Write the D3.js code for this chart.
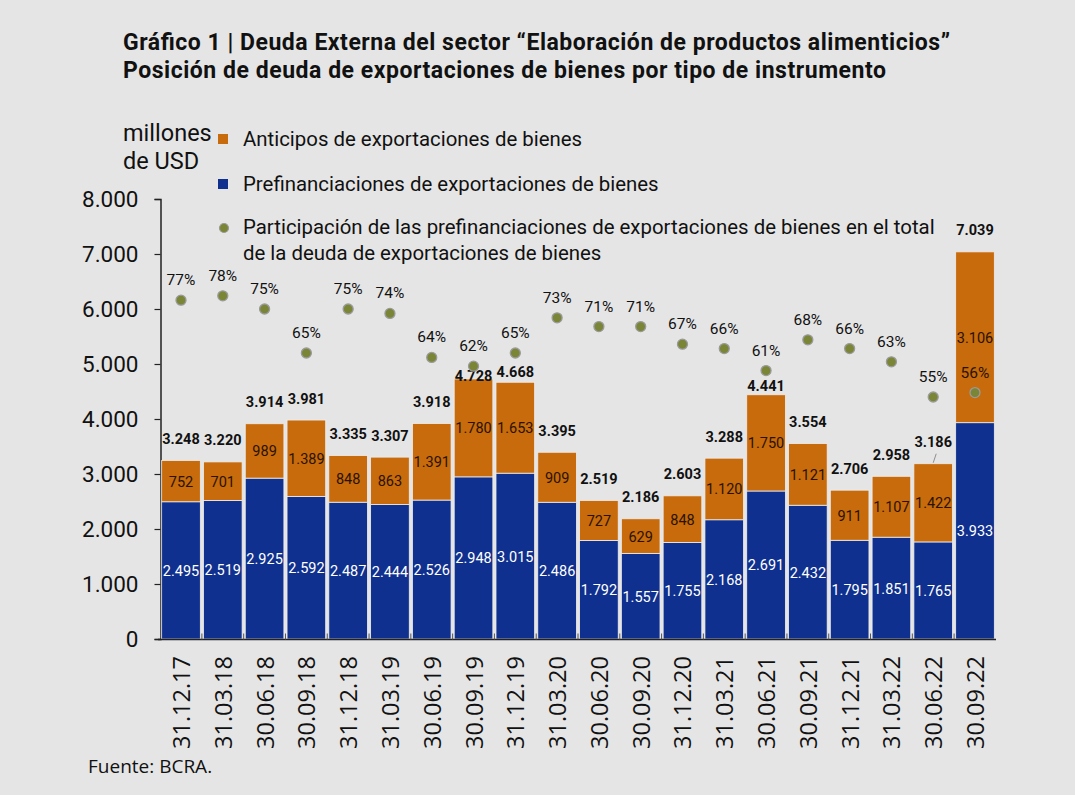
<!DOCTYPE html>
<html><head><meta charset="utf-8">
<script src="https://cdn.jsdelivr.net/npm/d3@7"></script>
<style>
html,body{margin:0;padding:0;background:#e5e5e5;}
svg{display:block;}
</style></head>
<body>
<svg id="c" width="1075" height="795"></svg>
<script>
const categories = ["31.12.17","31.03.18","30.06.18","30.09.18","31.12.18","31.03.19","30.06.19","30.09.19","31.12.19","31.03.20","30.06.20","30.09.20","31.12.20","31.03.21","30.06.21","30.09.21","31.12.21","31.03.22","30.06.22","30.09.22"];
const prefinanciaciones = [2495,2519,2925,2592,2487,2444,2526,2948,3015,2486,1792,1557,1755,2168,2691,2432,1795,1851,1765,3933];
const anticipos = [752,701,989,1389,848,863,1391,1780,1653,909,727,629,848,1120,1750,1121,911,1107,1422,3106];
const totales = [3248,3220,3914,3981,3335,3307,3918,4728,4668,3395,2519,2186,2603,3288,4441,3554,2706,2958,3186,7039];
const participacion = [77,78,75,65,75,74,64,62,65,73,71,71,67,66,61,68,66,63,55,56];
const yTicks = [0,1000,2000,3000,4000,5000,6000,7000,8000];

const BLUE = "#0f308e", ORANGE = "#c86b0c", DOT = "#7a8535", BG = "#e5e5e5";
const svg = d3.select("#c");
svg.append("rect").attr("width",1075).attr("height",795).attr("fill",BG);

const loc = d3.formatLocale({decimal:",",thousands:".",grouping:[3],currency:["",""]});
const fmt = loc.format(",d");

const x = d3.scaleBand().domain(categories).range([160,996]).paddingInner(0.075).paddingOuter(0.04);
const y = d3.scaleLinear().domain([0,8000]).range([639,199]);

// title
const title = svg.append("g").attr("font-family","Roboto").attr("font-weight","bold").attr("font-size",23).attr("fill","#111");
title.append("text").attr("x",123).attr("y",50).attr("textLength",827).attr("lengthAdjust","spacing").text("Gráfico 1 | Deuda Externa del sector “Elaboración de productos alimenticios”");
title.append("text").attr("x",123).attr("y",78).attr("textLength",763).attr("lengthAdjust","spacing").text("Posición de deuda de exportaciones de bienes por tipo de instrumento");

// unit
const unit = svg.append("g").attr("font-family","Roboto").attr("font-size",23.5).attr("fill","#111");
unit.append("text").attr("x",123).attr("y",141).text("millones");
unit.append("text").attr("x",123).attr("y",169).text("de USD");

// legend
const leg = svg.append("g").attr("font-family","Roboto").attr("font-size",20.4).attr("fill","#111");
leg.append("rect").attr("x",218).attr("y",134).attr("width",10).attr("height",10).attr("fill",ORANGE);
leg.append("text").attr("x",243).attr("y",146).text("Anticipos de exportaciones de bienes");
leg.append("rect").attr("x",218).attr("y",179).attr("width",10).attr("height",10).attr("fill",BLUE);
leg.append("text").attr("x",243).attr("y",191).text("Prefinanciaciones de exportaciones de bienes");
leg.append("circle").attr("cx",224).attr("cy",228).attr("r",4.5).attr("fill",DOT).attr("stroke","#9a9a9a").attr("stroke-width",1.2);
leg.append("text").attr("x",243).attr("y",234).text("Participación de las prefinanciaciones de exportaciones de bienes en el total");
leg.append("text").attr("x",243).attr("y",260).text("de la deuda de exportaciones de bienes");

// y axis
const yAxis = svg.append("g").attr("transform","translate(160.5,0)")
  .call(d3.axisLeft(y).tickValues(yTicks).tickFormat(fmt).tickSize(6).tickPadding(16));
yAxis.select(".domain").attr("stroke","#222").attr("stroke-width",1.5);
yAxis.selectAll(".tick line").attr("stroke","#222").attr("stroke-width",1.2);
yAxis.selectAll(".tick text").attr("font-family","Roboto").attr("font-size",22.5).attr("fill","#111");

// bars
const g = svg.append("g");
categories.forEach((c,i)=>{
  const x0 = x(c), w = x.bandwidth();
  g.append("rect").attr("x",x0).attr("y",y(prefinanciaciones[i])).attr("width",w)
    .attr("height",y(0)-y(prefinanciaciones[i])).attr("fill",BLUE).attr("stroke","#eeeeee").attr("stroke-width",0.8);
  g.append("rect").attr("x",x0).attr("y",y(prefinanciaciones[i]+anticipos[i])).attr("width",w)
    .attr("height",y(prefinanciaciones[i])-y(prefinanciaciones[i]+anticipos[i])).attr("fill",ORANGE).attr("stroke","#eeeeee").attr("stroke-width",0.8);
});

// x axis
const xAxisG = svg.append("g").attr("transform","translate(0,639.5)");
xAxisG.append("line").attr("x1",158).attr("x2",996).attr("stroke","#222").attr("stroke-width",1.5);
const step = x.step();
categories.forEach((c,i)=>{
  if(i>0){
    const bx = x(c) - (step - x.bandwidth())/2;
    xAxisG.append("line").attr("x1",bx).attr("x2",bx).attr("y1",-6).attr("y2",0).attr("stroke","#555").attr("stroke-width",1);
  }
});
categories.forEach((c)=>{
  const cx = x(c)+x.bandwidth()/2;
  svg.append("text").attr("transform",`translate(${cx+9},656) rotate(-90)`)
    .attr("text-anchor","end").attr("font-family","Open Sans").attr("font-size",23.5).attr("fill","#111").text(c);
});

// segment labels
const lab = svg.append("g").attr("font-family","Roboto").attr("font-size",14.5).attr("text-anchor","middle").attr("dominant-baseline","central");
categories.forEach((c,i)=>{
  const cx = x(c)+x.bandwidth()/2;
  lab.append("text").attr("x",cx).attr("y",(y(0)+y(prefinanciaciones[i]))/2+1).attr("fill","#fff").text(fmt(prefinanciaciones[i]));
  lab.append("text").attr("x",cx).attr("y",(y(prefinanciaciones[i])+y(totales[i]))/2+1).attr("fill","#2a1200").text(fmt(anticipos[i]));
});

// total labels
const totalShift = {"30.09.19":19, "31.12.19":11, "30.06.21":13};
const tot = svg.append("g").attr("font-family","Roboto").attr("font-weight","bold").attr("font-size",14.5).attr("text-anchor","middle").attr("dominant-baseline","central").attr("fill","#111");
categories.forEach((c,i)=>{
  const cx = x(c)+x.bandwidth()/2;
  const ty = y(totales[i]) - 21 + (totalShift[c]||0);
  tot.append("text").attr("x",cx).attr("y",ty).text(fmt(totales[i]));
});
// leader line for 30.06.22
{
  const c = "30.06.22", i = categories.indexOf(c);
  const cx = x(c)+x.bandwidth()/2;
  svg.append("line").attr("x1",cx+3).attr("y1",y(totales[i])-10).attr("x2",cx).attr("y2",y(totales[i])-1).attr("stroke","#777").attr("stroke-width",0.8);
}

// participation dots
const dots = svg.append("g");
categories.forEach((c,i)=>{
  const cx = x(c)+x.bandwidth()/2;
  const cy = y(participacion[i]/100*8000);
  dots.append("circle").attr("cx",cx).attr("cy",cy).attr("r",5).attr("fill",DOT).attr("stroke","#9a9a9a").attr("stroke-width",1.3);
  dots.append("text").attr("x",cx).attr("y",cy-20).attr("text-anchor","middle").attr("dominant-baseline","central")
    .attr("font-family","Roboto").attr("font-size",15.5).attr("fill", c==="30.09.22" ? "#2a1200" : "#111").text(participacion[i]+"%");
});

// source
svg.append("text").attr("x",88).attr("y",773).attr("font-family","Open Sans").attr("font-size",19).attr("fill","#111").text("Fuente: BCRA.");
</script>
</body></html>
